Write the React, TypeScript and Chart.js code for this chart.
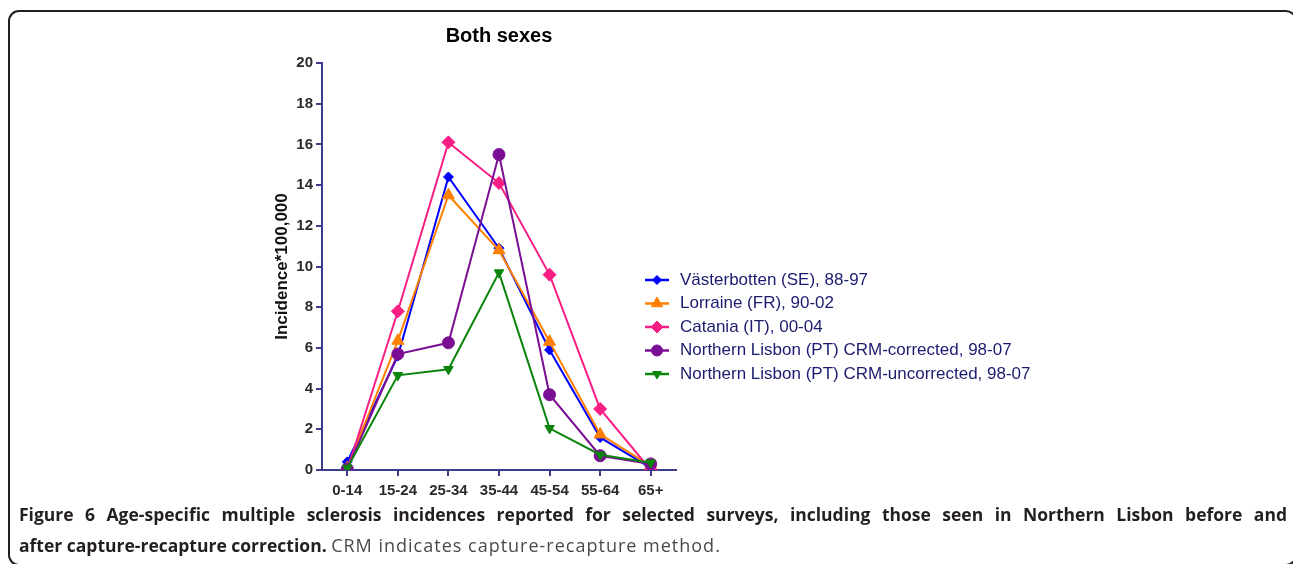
import React, { useEffect, useRef } from 'react';
import { Chart, registerables } from 'chart.js';

Chart.register(...registerables);

const ageGroups = ['0-14', '15-24', '25-34', '35-44', '45-54', '55-64', '65+'];
const vasterbotten = [0.4, 5.6, 14.4, 10.9, 5.9, 1.6, 0.1];
const lorraine = [0.1, 6.35, 13.5, 10.8, 6.3, 1.75, 0.2];
const catania = [0.0, 7.8, 16.1, 14.1, 9.6, 3.0, 0.0];
const lisbonCorrected = [0.05, 5.7, 6.25, 15.5, 3.7, 0.7, 0.3];
const lisbonUncorrected = [0.1, 4.65, 4.95, 9.7, 2.05, 0.75, 0.36];
const seriesLabels = [
  'Västerbotten (SE), 88-97',
  'Lorraine (FR), 90-02',
  'Catania (IT), 00-04',
  'Northern Lisbon (PT) CRM-corrected, 98-07',
  'Northern Lisbon (PT) CRM-uncorrected, 98-07',
];
const chartTitle = 'Both sexes';
const yAxisTitle = 'Incidence*100,000';
const captionLine1 = 'Figure 6 Age-specific multiple sclerosis incidences reported for selected surveys, including those seen in Northern Lisbon before and';
const captionLine2Bold = 'after capture-recapture correction.';
const captionLine2Rest = 'CRM indicates capture-recapture method.';

const AXIS = '#3d3d8c';
const TICK_TEXT = '#2a2a2a';
const LEGEND_TEXT = '#1b1b6f';
const FONT = "'Liberation Sans', Arial, Helvetica, sans-serif";

function drawMarker(ctx: CanvasRenderingContext2D, style: string, rotation: number, x: number, y: number, r: number) {
  ctx.beginPath();
  if (style === 'circle') {
    ctx.arc(x, y, r, 0, Math.PI * 2);
  } else if (style === 'rectRot') {
    ctx.moveTo(x, y - r);
    ctx.lineTo(x + r, y);
    ctx.lineTo(x, y + r);
    ctx.lineTo(x - r, y);
  } else if (style === 'triangle') {
    let rad = (rotation * Math.PI) / 180;
    for (let k = 0; k < 3; k++) {
      const px = x + Math.sin(rad) * r;
      const py = y - Math.cos(rad) * r;
      if (k === 0) ctx.moveTo(px, py);
      else ctx.lineTo(px, py);
      rad += (2 * Math.PI) / 3;
    }
  }
  ctx.closePath();
  ctx.fill();
  ctx.stroke();
}

const sideLegend = {
  id: 'sideLegend',
  afterDraw(chart: any) {
    const ctx: CanvasRenderingContext2D = chart.ctx;
    const cx = 657;
    const top = 280;
    const row = 23.5;
    ctx.save();
    chart.data.datasets.forEach((ds: any, i: number) => {
      const y = top + i * row;
      ctx.strokeStyle = ds.borderColor;
      ctx.fillStyle = ds.borderColor;
      ctx.lineWidth = 2.5;
      ctx.beginPath();
      ctx.moveTo(cx - 12, y);
      ctx.lineTo(cx + 12, y);
      ctx.stroke();
      ctx.lineWidth = 1;
      drawMarker(ctx, ds.pointStyle, ds.pointRotation || 0, cx, y, ds.legendRadius);
      ctx.fillStyle = LEGEND_TEXT;
      ctx.font = `17px ${FONT}`;
      ctx.textBaseline = 'middle';
      ctx.textAlign = 'left';
      ctx.fillText(ds.label, cx + 23, y);
    });
    ctx.restore();
  },
};

export default function App() {
  const canvasRef = useRef<HTMLCanvasElement | null>(null);

  useEffect(() => {
    if (!canvasRef.current) return;
    const mk = (label: string, data: number[], color: string, style: string, radius: number, legendRadius: number, order: number, rotation = 0) => ({
      label,
      data,
      borderColor: color,
      backgroundColor: color,
      pointBackgroundColor: color,
      pointBorderColor: color,
      pointStyle: style,
      pointRotation: rotation,
      pointRadius: radius,
      pointBorderWidth: 1,
      borderWidth: 2,
      tension: 0,
      order,
      legendRadius,
    });
    const chart = new Chart(canvasRef.current, {
      type: 'line',
      data: {
        labels: ageGroups,
        datasets: [
          mk(seriesLabels[0], vasterbotten, '#0000ff', 'rectRot', 5, 4.5, 5),
          mk(seriesLabels[1], lorraine, '#ff8000', 'triangle', 7, 6.5, 4),
          mk(seriesLabels[2], catania, '#f91e84', 'rectRot', 6.5, 6, 3),
          mk(seriesLabels[3], lisbonCorrected, '#7a0f96', 'circle', 6, 5.5, 2),
          mk(seriesLabels[4], lisbonUncorrected, '#0a840a', 'triangle', 5.5, 5, 1, 180),
        ] as any,
      },
      options: {
        responsive: false,
        animation: false,
        events: [],
        layout: { padding: { left: 262, right: 617, top: 0, bottom: 0 } },
        plugins: {
          legend: { display: false },
          tooltip: { enabled: false },
          title: {
            display: true,
            text: chartTitle,
            fullSize: false,
            color: '#000',
            font: { family: FONT, size: 20, weight: 'bold' },
            padding: { top: 24, bottom: 15 },
          },
        },
        scales: {
          x: {
            type: 'category',
            offset: true,
            afterFit: (s: any) => { s.height = 30; },
            grid: { offset: false, drawOnChartArea: false, drawTicks: true, tickLength: 6, color: AXIS, lineWidth: 2 },
            border: { display: true, color: AXIS, width: 2 },
            ticks: { color: TICK_TEXT, font: { family: FONT, size: 15, weight: 'bold' }, padding: 6, maxRotation: 0, autoSkip: false },
          },
          y: {
            min: 0,
            max: 20,
            afterFit: (s: any) => { s.width = 60; },
            grid: { drawOnChartArea: false, drawTicks: true, tickLength: 6, color: AXIS, lineWidth: 2 },
            border: { display: true, color: AXIS, width: 2 },
            ticks: { stepSize: 2, color: TICK_TEXT, font: { family: FONT, size: 15, weight: 'bold' }, padding: 3 },
            title: {
              display: true,
              text: yAxisTitle,
              color: '#111',
              font: { family: FONT, size: 17, weight: 'bold' },
              padding: { top: 10, bottom: 0 },
            },
          },
        },
      } as any,
      plugins: [sideLegend],
    });
    return () => chart.destroy();
  }, []);

  return (
    <div style={{ position: 'fixed', left: 0, top: 0, width: 1293, height: 564, overflow: 'hidden', background: '#fff' }}>
      <div
        style={{
          position: 'absolute',
          left: 8,
          top: 10,
          width: 1289,
          height: 556,
          boxSizing: 'border-box',
          border: '2px solid #231f20',
          borderRadius: 11,
        }}
      />
      <canvas ref={canvasRef} width={1293} height={500} style={{ position: 'absolute', left: 0, top: 0, width: 1293, height: 500 }} />
      <div
        style={{
          position: 'absolute',
          left: 19,
          top: 499,
          width: 1268,
          fontFamily: "'Open Sans', sans-serif",
          fontSize: 17.5,
          lineHeight: '31px',
          color: '#231f20',
        }}
      >
        <div style={{ fontWeight: 'bold', whiteSpace: 'nowrap', textAlign: 'justify', textAlignLast: 'justify' } as any}>{captionLine1}</div>
        <div style={{ whiteSpace: 'nowrap' }}>
          <b>{captionLine2Bold}</b>{' '}
          <span style={{ color: '#4a4a4a', fontSize: 18, letterSpacing: 1.0 }}>{captionLine2Rest}</span>
        </div>
      </div>
    </div>
  );
}
